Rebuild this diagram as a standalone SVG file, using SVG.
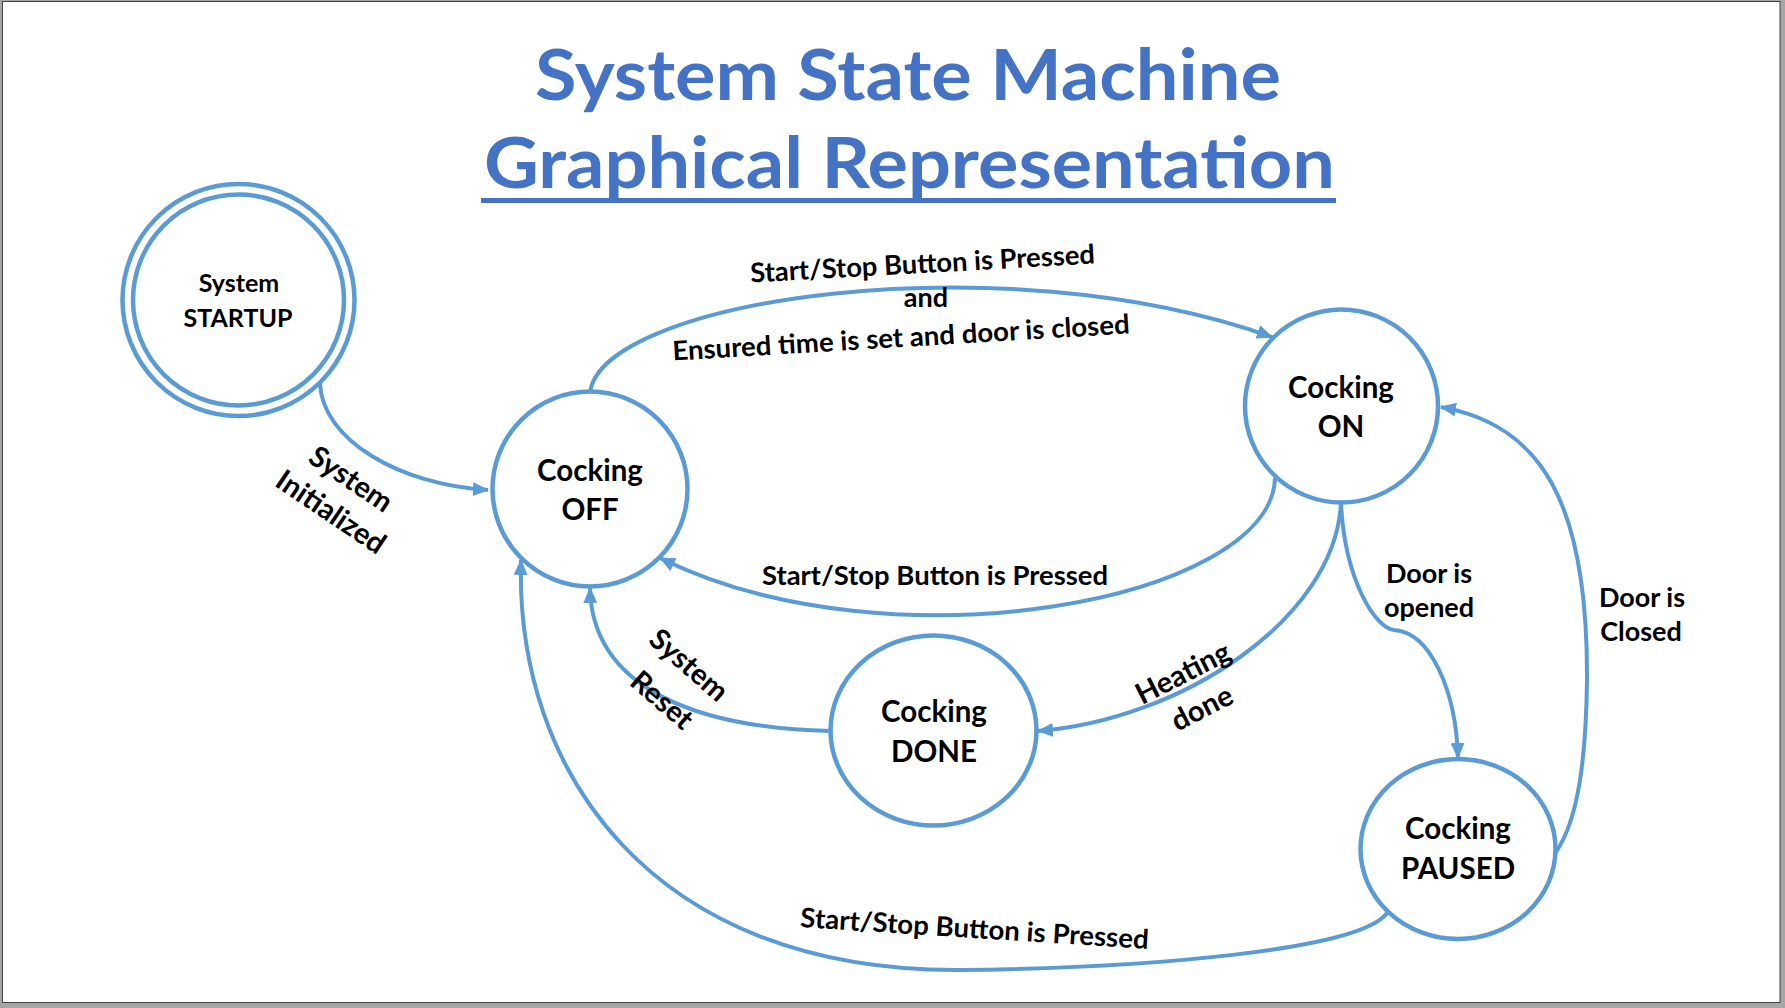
<svg xmlns="http://www.w3.org/2000/svg" width="1785" height="1008" viewBox="0 0 1785 1008">
<style>
.node{fill:#fff;stroke:#5B9BD5;stroke-width:4.5}
.edge{fill:none;stroke:#5B9BD5;stroke-width:4}
.nt{font-family:Lato,"Open Sans","Liberation Sans",sans-serif;font-weight:bold;font-size:29.5px;fill:#000;text-anchor:middle}
.lt{font-family:Lato,"Open Sans","Liberation Sans",sans-serif;font-weight:bold;font-size:27px;fill:#000;text-anchor:middle}
.rt{font-size:29px}
.title{font-family:Lato,"Open Sans","Liberation Sans",sans-serif;font-weight:bold;font-size:70px;fill:#4472C4}
</style>
<defs>
<marker id="arr" viewBox="0 0 16 14" refX="15" refY="7" markerWidth="16" markerHeight="14" markerUnits="userSpaceOnUse" orient="auto">
<path d="M0,0 L16,7 L0,14 Z" fill="#5B9BD5"/>
</marker>
</defs>
<rect x="0" y="0" width="1785" height="1008" fill="#a6a6a6"/>
<rect x="2.5" y="1.5" width="1777.5" height="1001" fill="#fff" stroke="#444" stroke-width="1"/>

<g id="title">
<text class="title" x="535" y="100" textLength="746" lengthAdjust="spacingAndGlyphs">System State Machine</text>
<text class="title" x="484" y="188" textLength="851" lengthAdjust="spacingAndGlyphs">Graphical Representation</text>
<rect x="481" y="198" width="855" height="5" fill="#4472C4"/>
</g>

<g id="connectors">
<path class="edge" d="M320 383 C322 440 400 485 488 490" marker-end="url(#arr)"/>
<path class="edge" d="M590 393 C600 300 1000 240 1272 337" marker-end="url(#arr)"/>
<path class="edge" d="M1275 478 C1272 600 890 672 660 558" marker-end="url(#arr)"/>
<path class="edge" d="M1341 503 C1335 620 1180 720 1038 731" marker-end="url(#arr)"/>
<path class="edge" d="M1341 504 C1345 580 1375 628 1394 630 C1430 632 1456 690 1458 758" marker-end="url(#arr)"/>
<path class="edge" d="M1556 852 C1578 820 1586 760 1587 680 C1588 500 1540 425 1441 407" marker-end="url(#arr)"/>
<path class="edge" d="M1387 913 C1360 950 1150 968 960 970 C650 972 515 770 521 560" marker-end="url(#arr)"/>
<path class="edge" d="M830 731 C700 728 592 690 590 588" marker-end="url(#arr)"/>

<text class="lt" transform="translate(923,273) rotate(-3.15)" x="0" y="0" textLength="345" lengthAdjust="spacingAndGlyphs">Start/Stop Button is Pressed</text>
<text class="lt" x="926" y="307">and</text>
<text class="lt" transform="translate(901.5,347) rotate(-3.4)" x="0" y="0" textLength="458" lengthAdjust="spacingAndGlyphs">Ensured time is set and door is closed</text>
<text class="lt" x="935" y="585" textLength="346" lengthAdjust="spacingAndGlyphs">Start/Stop Button is Pressed</text>
<text class="lt" transform="translate(974,938) rotate(3.6)" x="0" y="0" textLength="349" lengthAdjust="spacingAndGlyphs">Start/Stop Button is Pressed</text>
<text class="lt rt" transform="translate(351,479) rotate(34)" x="0" y="10">System</text>
<text class="lt rt" transform="translate(331,512) rotate(34)" x="0" y="10">Initialized</text>
<text class="lt rt" transform="translate(689,665) rotate(41)" x="0" y="10">System</text>
<text class="lt rt" transform="translate(662,700) rotate(41)" x="0" y="10">Reset</text>
<text class="lt rt" transform="translate(1183,673) rotate(-27)" x="0" y="10">Heating</text>
<text class="lt rt" transform="translate(1202,708) rotate(-27)" x="0" y="10">done</text>
<text class="lt" x="1429" y="583">Door is</text>
<text class="lt" x="1429" y="617">opened</text>
<text class="lt" x="1642" y="607">Door is</text>
<text class="lt" x="1641" y="641">Closed</text>
</g>

<g id="node-startup">
<circle class="node" cx="238.5" cy="300" r="116"/>
<circle class="node" cx="238.5" cy="300" r="105.5"/>
<text class="nt" style="font-size:25px" x="239" y="292">System</text>
<text class="nt" style="font-size:25px" x="238" y="327">STARTUP</text>
</g>
<g id="node-off">
<circle class="node" cx="590" cy="489" r="97.5"/>
<text class="nt" x="590" y="481">Cocking</text>
<text class="nt" x="590" y="520">OFF</text>
</g>
<g id="node-on">
<circle class="node" cx="1341.5" cy="406" r="96.5"/>
<text class="nt" x="1341" y="398">Cocking</text>
<text class="nt" x="1341" y="437">ON</text>
</g>
<g id="node-done">
<ellipse class="node" cx="933.5" cy="730.5" rx="103" ry="95"/>
<text class="nt" x="934" y="722">Cocking</text>
<text class="nt" x="934" y="762">DONE</text>
</g>
<g id="node-paused">
<ellipse class="node" cx="1458" cy="849" rx="97.5" ry="90"/>
<text class="nt" x="1458" y="839">Cocking</text>
<text class="nt" x="1458" y="879">PAUSED</text>
</g>
</svg>
